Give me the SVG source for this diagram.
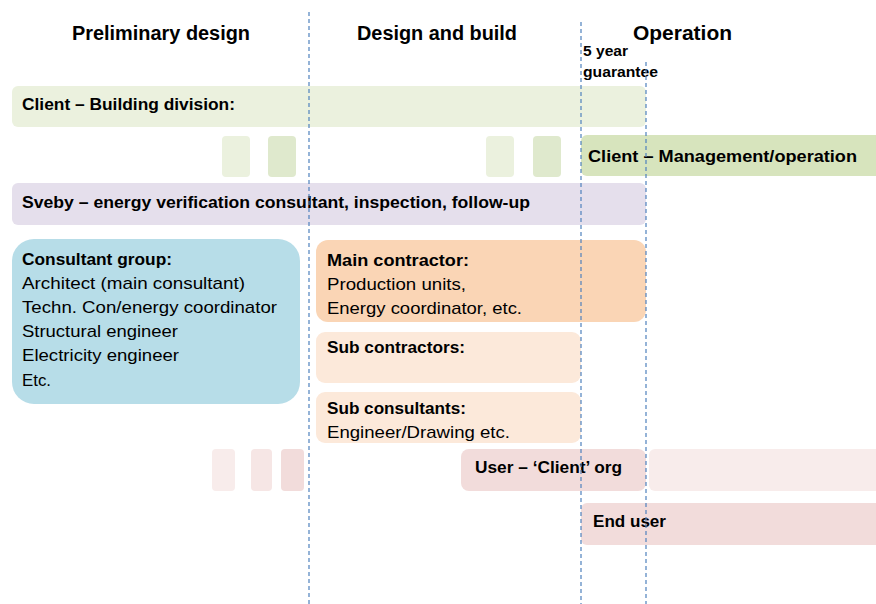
<svg xmlns="http://www.w3.org/2000/svg" width="876" height="604" viewBox="0 0 876 604">
<style>
text{font-family:"Liberation Sans",Arial,sans-serif;fill:#000;}
.h{font-size:20px;font-weight:bold;}
.b{font-size:17px;font-weight:bold;}
.n{font-size:17px;}
.s{font-size:14px;font-weight:bold;}
.dash{stroke:#4f81bd;stroke-width:1.2;stroke-dasharray:4 3;fill:none;}
</style>
<rect width="876" height="604" fill="#fff"/>
<g id="headings">
<text class="h" x="72" y="40" textLength="178" lengthAdjust="spacingAndGlyphs">Preliminary design</text>
<text class="h" x="357" y="40" textLength="160" lengthAdjust="spacingAndGlyphs">Design and build</text>
<text class="h" x="633" y="40" textLength="99" lengthAdjust="spacingAndGlyphs">Operation</text>
<text class="s" x="583" y="56" textLength="45" lengthAdjust="spacingAndGlyphs">5 year</text>
<text class="s" x="583" y="77" textLength="75" lengthAdjust="spacingAndGlyphs">guarantee</text>
</g>
<g id="client-building">
<rect x="12" y="86" width="634" height="41" rx="6" fill="#ebf1de"/>
<text class="b" x="22" y="110" textLength="213" lengthAdjust="spacingAndGlyphs">Client – Building division:</text>
</g>
<g id="green-steps">
<rect x="222" y="136" width="28" height="41" rx="4" fill="#ebf1de"/>
<rect x="268" y="136" width="28" height="41" rx="4" fill="#dfe9cd"/>
<rect x="486" y="136" width="28" height="41" rx="4" fill="#ebf1de"/>
<rect x="533" y="136" width="28" height="41" rx="4" fill="#dfe9cd"/>
</g>
<g id="client-management">
<rect x="581" y="135" width="305" height="41" rx="6" fill="#d7e4bd"/>
<text class="b" x="588" y="162" textLength="269" lengthAdjust="spacingAndGlyphs">Client – Management/operation</text>
</g>
<g id="sveby">
<rect x="12" y="183" width="634" height="42" rx="6" fill="#e5dfec"/>
<text class="b" x="22" y="208" textLength="508" lengthAdjust="spacingAndGlyphs">Sveby – energy verification consultant, inspection, follow-up</text>
</g>
<g id="consultant-group">
<rect x="12" y="239" width="288" height="165" rx="22" fill="#b7dde8"/>
<text class="b" x="22" y="265" textLength="150" lengthAdjust="spacingAndGlyphs">Consultant group:</text>
<text class="n" x="22" y="289" textLength="223" lengthAdjust="spacingAndGlyphs">Architect (main consultant)</text>
<text class="n" x="22" y="313" textLength="255" lengthAdjust="spacingAndGlyphs">Techn. Con/energy coordinator</text>
<text class="n" x="22" y="337" textLength="156" lengthAdjust="spacingAndGlyphs">Structural engineer</text>
<text class="n" x="22" y="361" textLength="157" lengthAdjust="spacingAndGlyphs">Electricity engineer</text>
<text class="n" x="22" y="386" textLength="29" lengthAdjust="spacingAndGlyphs">Etc.</text>
</g>
<g id="main-contractor">
<rect x="316" y="240" width="330" height="82" rx="12" fill="#fad5b5"/>
<text class="b" x="327" y="266" textLength="142" lengthAdjust="spacingAndGlyphs">Main contractor:</text>
<text class="n" x="327" y="290" textLength="139" lengthAdjust="spacingAndGlyphs">Production units,</text>
<text class="n" x="327" y="314" textLength="195" lengthAdjust="spacingAndGlyphs">Energy coordinator, etc.</text>
</g>
<g id="sub-contractors">
<rect x="316" y="332" width="265" height="51" rx="9" fill="#fce9da"/>
<text class="b" x="327" y="353" textLength="138" lengthAdjust="spacingAndGlyphs">Sub contractors:</text>
</g>
<g id="sub-consultants">
<rect x="316" y="392" width="265" height="51" rx="9" fill="#fce9da"/>
<text class="b" x="327" y="414" textLength="139" lengthAdjust="spacingAndGlyphs">Sub consultants:</text>
<text class="n" x="327" y="438" textLength="183" lengthAdjust="spacingAndGlyphs">Engineer/Drawing etc.</text>
</g>
<g id="pink-steps">
<rect x="212" y="449" width="23" height="42" rx="4" fill="#f8eceb"/>
<rect x="251" y="449" width="21" height="42" rx="4" fill="#f6e6e5"/>
<rect x="281" y="449" width="23" height="42" rx="4" fill="#f2dcdb"/>
<rect x="649" y="449" width="237" height="42" rx="6" fill="#f8eceb"/>
</g>
<g id="user-client-org">
<rect x="461" y="449" width="185" height="42" rx="8" fill="#f2dcdb"/>
<text class="b" x="475" y="473" textLength="147" lengthAdjust="spacingAndGlyphs">User – ‘Client’ org</text>
</g>
<g id="end-user">
<rect x="581" y="503" width="305" height="42" rx="6" fill="#f2dcdb"/>
<text class="b" x="593" y="527" textLength="73" lengthAdjust="spacingAndGlyphs">End user</text>
</g>
<g id="connectors">
<line class="dash" x1="309" y1="12" x2="309" y2="604"/>
<line class="dash" x1="581" y1="22" x2="581" y2="604"/>
<line class="dash" x1="646" y1="62" x2="646" y2="604"/>
</g>
</svg>
